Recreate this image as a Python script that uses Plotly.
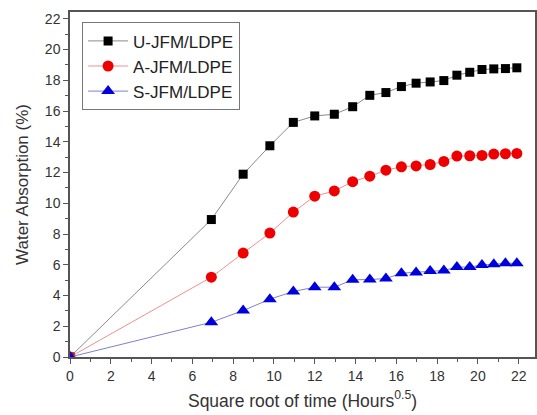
import plotly.graph_objects as go

sqrt_time = [0, 6.93, 8.49, 9.80, 10.95, 12.00, 12.96, 13.86, 14.70, 15.49,
             16.25, 16.97, 17.66, 18.33, 18.97, 19.60, 20.20, 20.78, 21.35, 21.91]
u_jfm = [0, 8.94, 11.89, 13.74, 15.26, 15.68, 15.79, 16.28, 17.02, 17.20,
         17.59, 17.81, 17.89, 17.98, 18.33, 18.52, 18.70, 18.74, 18.76, 18.81]
a_jfm = [0, 5.19, 6.76, 8.06, 9.43, 10.46, 10.80, 11.40, 11.76, 12.15,
         12.37, 12.43, 12.52, 12.72, 13.07, 13.09, 13.11, 13.20, 13.22, 13.24]
s_jfm = [0, 2.26, 3.02, 3.76, 4.26, 4.54, 4.54, 5.02, 5.04, 5.10,
         5.45, 5.50, 5.59, 5.63, 5.85, 5.85, 5.98, 6.04, 6.09, 6.10]
series_names = ["U-JFM/LDPE", "A-JFM/LDPE", "S-JFM/LDPE"]
x_ticks = list(range(0, 23, 2))
y_ticks = list(range(0, 23, 2))

styles = [
    dict(color="black", line="#8a8a8a", symbol="square", size=9),
    dict(color="#ee0000", line="#ee9090", symbol="circle", size=11),
    dict(color="#0000dd", line="#8080cc", symbol="triangle-up", size=12),
]

fig = go.Figure()
for name, ys, st in zip(series_names, [u_jfm, a_jfm, s_jfm], styles):
    fig.add_trace(go.Scatter(
        x=sqrt_time, y=ys, name=name, mode="lines+markers",
        line=dict(color=st["line"], width=1),
        marker=dict(symbol=st["symbol"], size=st["size"], color=st["color"],
                    line=dict(width=0)),
    ))

axis_common = dict(
    showgrid=False, zeroline=False, showline=True, linecolor="#555555",
    linewidth=1.5, mirror=True, ticks="outside", ticklen=5, tickwidth=1,
    tickcolor="#555555",
    tickfont=dict(family="Liberation Sans, Arial", size=14, color="#333333"),
    minor=dict(ticks="outside", ticklen=3, tickcolor="#555555", dtick=1),
)

fig.update_layout(
    width=537, height=415,
    margin=dict(l=70, r=0, t=12, b=58),
    paper_bgcolor="white", plot_bgcolor="white",
    font=dict(family="Liberation Sans, Arial", color="#333333"),
    xaxis=dict(range=[0, 22.8], tickvals=x_ticks,
               title=dict(text="Square root of time (Hours<sup>0.5</sup>)",
                          font=dict(size=17.5), standoff=12),
               **axis_common),
    yaxis=dict(range=[0, 22.44], tickvals=y_ticks,
               title=dict(text="Water Absorption (%)", font=dict(size=17),
                          standoff=12),
               **axis_common),
    legend=dict(x=0.026, y=0.97, xanchor="left", yanchor="top",
                bordercolor="#777777", borderwidth=1, bgcolor="white",
                font=dict(size=17, color="#222222"),
                tracegroupgap=0, itemwidth=40),
    showlegend=True,
)

fig.write_html("out.html", config={"displayModeBar": False},
               post_script="document.body.style.margin='0';document.body.style.padding='0';")
